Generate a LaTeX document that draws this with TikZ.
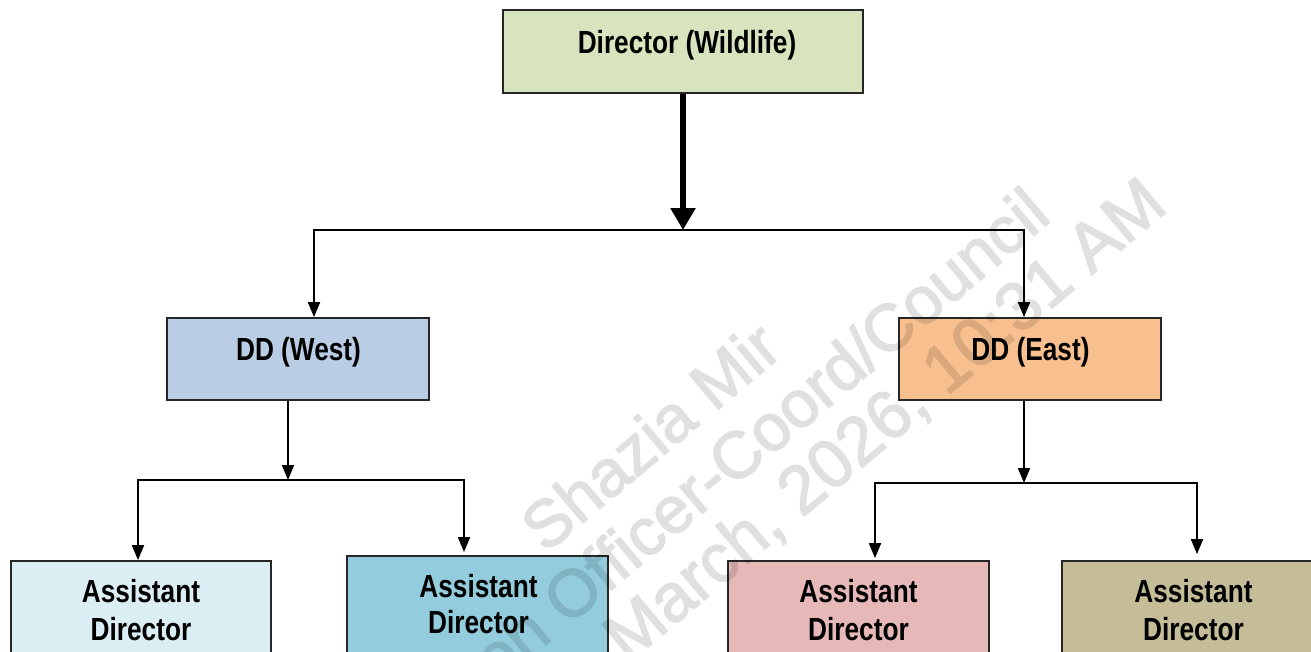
\documentclass[tikz,border=0pt]{standalone}
\usepackage{fontspec}
\newfontfamily\narrowfont[FakeStretch=0.82]{Liberation Sans}
\newfontfamily\wmfont[FakeBold=2.2]{Liberation Sans}
\usetikzlibrary{arrows.meta}
\definecolor{cdir}{HTML}{D7E4BD}
\definecolor{cwest}{HTML}{B9CDE5}
\definecolor{ceast}{HTML}{F9C08F}
\definecolor{cadone}{HTML}{DBEEF4}
\definecolor{cadtwo}{HTML}{93CDDD}
\definecolor{cadthree}{HTML}{E6B9B8}
\definecolor{cadfour}{HTML}{C4BD97}
\begin{document}
\begin{tikzpicture}[x=1pt,y=-1pt,
  box/.style={draw=black!85, line width=1.8pt, inner sep=0pt},
  lbl/.style={font=\narrowfont\bfseries\fontsize{32}{38}\selectfont, inner sep=0pt, anchor=base},
  arr/.style={line width=1.8pt, -{Triangle[width=12pt,length=15pt]}},
  bigarr/.style={line width=6pt, -{Triangle[width=24pt,length=22pt]}},
  wm/.style={font=\wmfont\fontsize{66}{76}\selectfont, text=black, inner sep=0pt, anchor=base west, rotate=40}]
\useasboundingbox (0,0) rectangle (1311,651);
\clip (0,0) rectangle (1311,651);
% boxes
\node[box, fill=cdir, minimum width=360pt, minimum height=83pt] (dir) at (683,51.5) {};
\node[box, fill=cwest, minimum width=262pt, minimum height=82pt] (ddw) at (298,359) {};
\node[box, fill=ceast, minimum width=262pt, minimum height=82pt] (dde) at (1030,359) {};
\node[box, fill=cadone, minimum width=260pt, minimum height=100pt] (ad1) at (141,611) {};
\node[box, fill=cadtwo, minimum width=261pt, minimum height=100pt] (ad2) at (477.5,606) {};
\node[box, fill=cadthree, minimum width=261pt, minimum height=100pt] (ad3) at (858.5,611) {};
\node[box, fill=cadfour, minimum width=262pt, minimum height=100pt] (ad4) at (1193,611) {};
% labels
\node[lbl] (tdir) at (687,53.5) {Director (Wildlife)};
\node[lbl] (tddw) at (298.5,360) {DD (West)};
\node[lbl] (tdde) at (1030.5,360) {DD (East)};
\node[lbl] (tadonea) at (141,602.5) {Assistant};
\node[lbl] (tadoneb) at (141,640.5) {Director};
\node[lbl] (tadtwoa) at (478.5,597.5) {Assistant};
\node[lbl] (tadtwob) at (478.5,633.5) {Director};
\node[lbl] (tadthreea) at (858.5,602.5) {Assistant};
\node[lbl] (tadthreeb) at (858.5,640.5) {Director};
\node[lbl] (tadfoura) at (1193.5,602.5) {Assistant};
\node[lbl] (tadfourb) at (1193.5,640.5) {Director};
% connectors
\coordinate (j1) at (683,230);
\coordinate (j2) at (288,480);
\coordinate (j3) at (1024,483);
\draw[bigarr] (dir.south) -- (j1);
\draw[arr] (j1) -| ([xshift=16pt]ddw.north);
\draw[arr] (j1) -| ([xshift=-6pt]dde.north);
\draw[arr] ([xshift=-10pt]ddw.south) -- (j2);
\draw[arr] (j2) -| ([xshift=-3pt]ad1.north);
\draw[arr] (j2) -| ([xshift=-13.5pt,yshift=3pt]ad2.north);
\draw[arr] ([xshift=-6pt]dde.south) -- (j3);
\draw[arr] (j3) -| ([xshift=16.5pt,yshift=2pt]ad3.north);
\draw[arr] (j3) -| ([xshift=4pt,yshift=6pt]ad4.north);
% watermark
\begin{scope}[transparency group, opacity=0.12]
\node[wm] (wmone) at (545.6,554.2) {Shazia Mir};
\node[wm] (wmtwo) at (497.3,685.7) {on Officer-Coord/Council};
\node[wm, font=\wmfont\fontsize{68}{78}\selectfont] (wmthree) at (628,664) {March, 2026, 10:31 AM};
\end{scope}
\end{tikzpicture}
\end{document}
